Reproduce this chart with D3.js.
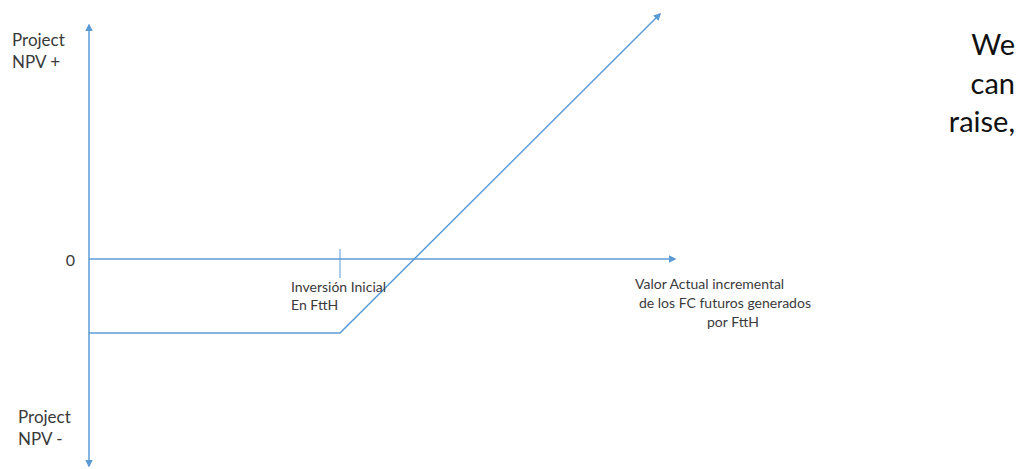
<!DOCTYPE html>
<html>
<head>
<meta charset="utf-8">
<script src="https://cdn.jsdelivr.net/npm/d3@7"></script>
<style>
  body { margin: 0; background: #fff; }
  svg text { font-family: Lato, "Open Sans", sans-serif; fill: #3a3a3a; }
</style>
</head>
<body>
<div id="chart"></div>
<script>
// values (same unit on both axes, zero at origin)
var xAxisEnd = 586;          // present value axis length
var yAxisTop = 234, yAxisBottom = -207;
var investment = 251;        // "Inversión Inicial" tick
var payoffX = [0, 251, 571];
var payoffY = [-74, -74, 245];
var sideText = ["We", "can", "raise,"];

var width = 1021, height = 469;
var origin = {x: 89, y: 259};

var x = d3.scaleLinear().domain([0, 600]).range([origin.x, origin.x + 600]);
var y = d3.scaleLinear().domain([yAxisBottom, yAxisTop]).range([origin.y + 207, origin.y - 234]);

var svg = d3.select("#chart").append("svg").attr("width", width).attr("height", height);
var blue = "#5b9bd5";

svg.append("defs").append("marker")
  .attr("id", "arrow")
  .attr("viewBox", "0 0 10 10")
  .attr("refX", 8).attr("refY", 5)
  .attr("markerWidth", 5).attr("markerHeight", 5)
  .attr("orient", "auto-start-reverse")
  .append("path").attr("d", "M0,0L10,5L0,10z").attr("fill", blue);

// vertical axis (both ends arrowed)
svg.append("line")
  .attr("x1", x(0)).attr("x2", x(0))
  .attr("y1", y(yAxisBottom)).attr("y2", y(yAxisTop))
  .attr("stroke", blue).attr("stroke-width", 1.5)
  .attr("marker-start", "url(#arrow)").attr("marker-end", "url(#arrow)");

// horizontal axis
svg.append("line")
  .attr("x1", x(0)).attr("x2", x(xAxisEnd))
  .attr("y1", y(0)).attr("y2", y(0))
  .attr("stroke", blue).attr("stroke-width", 1.5)
  .attr("marker-end", "url(#arrow)");

// tick for initial investment
svg.append("line")
  .attr("x1", x(investment)).attr("x2", x(investment))
  .attr("y1", y(10)).attr("y2", y(-19))
  .attr("stroke", blue).attr("stroke-width", 1);

// payoff line
var pts = payoffX.map(function(d, i){ return [d, payoffY[i]]; });
svg.append("path")
  .datum(pts)
  .attr("d", d3.line().x(function(d){ return x(d[0]); }).y(function(d){ return y(d[1]); }))
  .attr("fill", "none").attr("stroke", blue).attr("stroke-width", 1.5)
  .attr("marker-end", "url(#arrow)");

// labels
function label(tx, ty, txt, size, anchor) {
  svg.append("text").attr("x", tx).attr("y", ty)
    .attr("font-size", size).attr("text-anchor", anchor || "start").text(txt);
}
label(12, 46, "Project", 17);
label(12, 68, "NPV +", 17);
label(75, 266, "0", 16, "end");
label(18, 423, "Project", 17);
label(18, 445, "NPV -", 17);
label(x(investment) - 49, 292, "Inversión Inicial", 14);
label(x(investment) - 49, 310, "En FttH", 14);
label(635, 289, "Valor Actual incremental", 14);
label(639, 308, "de los FC futuros generados", 14);
label(707, 327, "por FttH", 14);

sideText.forEach(function(t, i){
  svg.append("text").attr("x", 1015).attr("y", 55 + i * 38.5)
    .attr("font-size", 29).attr("text-anchor", "end")
    .style("fill", "#111").text(t);
});
</script>
</body>
</html>
